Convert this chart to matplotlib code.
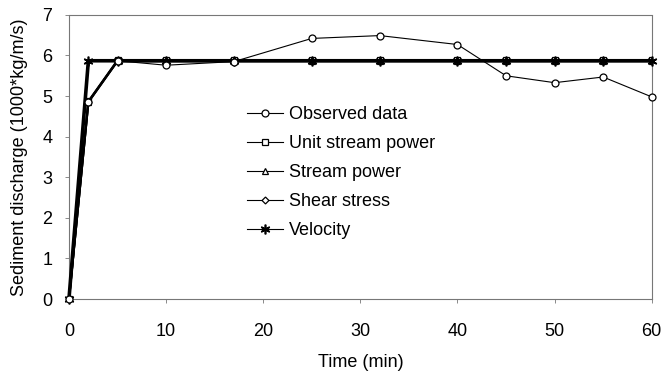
import matplotlib
matplotlib.use("Agg")
import matplotlib.pyplot as plt

plt.rcParams['font.family'] = ['Liberation Sans', 'DejaVu Sans']

# time (min)
t = [0, 2, 5, 10, 17, 25, 32, 40, 45, 50, 55, 60]

# sediment discharge (1000*kg/m/s)
observed = [0, 4.86, 5.87, 5.76, 5.85, 6.42, 6.49, 6.27, 5.50, 5.33, 5.47, 4.98]
unit_stream_power = [0, 4.87, 5.88, 5.88, 5.88, 5.88, 5.88, 5.88, 5.88, 5.88, 5.88, 5.88]
stream_power = [0, 4.86, 5.86, 5.86, 5.86, 5.86, 5.86, 5.86, 5.86, 5.86, 5.86, 5.86]
shear_stress = [0, 4.85, 5.87, 5.87, 5.87, 5.87, 5.87, 5.87, 5.87, 5.87, 5.87, 5.87]
velocity = [0, 5.87, 5.87, 5.87, 5.87, 5.87, 5.87, 5.87, 5.87, 5.87, 5.87, 5.87]

fig = plt.figure(figsize=(6.63, 3.72), dpi=100)
ax = fig.add_axes([0.104, 0.196, 0.879, 0.764])

ms = 5
ax.plot(t, observed, color='black', lw=0.8, marker='o', ms=ms,
        mfc='white', mec='black', mew=0.9, label='Observed data', zorder=5,
        clip_on=False)
ax.plot(t, unit_stream_power, color='black', lw=1.6, marker='s', ms=ms - 1,
        mfc='white', mec='black', mew=0.9, label='Unit stream power')
ax.plot(t, stream_power, color='black', lw=1.6, marker='^', ms=ms - 1,
        mfc='white', mec='black', mew=0.9, label='Stream power')
ax.plot(t, shear_stress, color='black', lw=1.6, marker='D', ms=ms - 1.5,
        mfc='white', mec='black', mew=0.9, label='Shear stress')
ax.plot(t, velocity, color='black', lw=2.6, marker=(6, 2, 0), ms=ms + 2,
        mec='black', mew=1.2, label='Velocity', zorder=4, clip_on=False)

ax.set_xlim(0, 60)
ax.set_ylim(0, 7)
ax.set_xticks(range(0, 61, 10))
ax.set_yticks(range(0, 8))

for s in ax.spines.values():
    s.set_color('#777777')
    s.set_linewidth(0.8)
    s.set_linestyle((0, (1, 1)))

ax.tick_params(axis='both', direction='out', length=3, width=0.6,
               color='#777777', labelsize=13)
ax.tick_params(axis='x', pad=14)
ax.tick_params(axis='y', pad=9)

ax.set_xlabel('Time (min)', fontsize=13, labelpad=10)
ax.set_ylabel('Sediment discharge (1000*kg/m/s)', fontsize=13, labelpad=10)

leg = ax.legend(loc='upper left', bbox_to_anchor=(0.29, 0.71), frameon=False,
                fontsize=13, handlelength=2.0, handletextpad=0.3,
                labelspacing=0.66, borderpad=0)
for line in leg.get_lines():
    line.set_linewidth(0.8)

fig.savefig('out.png', dpi=100)
